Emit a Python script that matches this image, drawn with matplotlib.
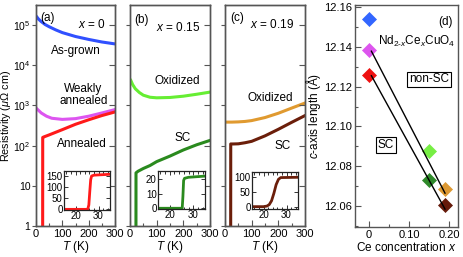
import matplotlib
matplotlib.use("Agg")
import matplotlib.pyplot as plt
from matplotlib.ticker import FixedLocator, MultipleLocator, NullLocator
import numpy as np

plt.rcParams['font.family'] = ['Liberation Sans', 'DejaVu Sans']
plt.rcParams['mathtext.fontset'] = 'custom'
plt.rcParams['mathtext.rm'] = 'Liberation Sans'
plt.rcParams['mathtext.it'] = 'Liberation Sans:italic'
plt.rcParams['mathtext.bf'] = 'Liberation Sans:bold'

# ---------------- data ----------------
# panel (a), x = 0
T_asgrown = [3, 10, 20, 35, 50, 75, 100, 150, 200, 250, 300]
rho_asgrown = [1.6e5, 1.4e5, 1.22e5, 1.03e5, 9.1e4, 7.6e4, 6.5e4, 5.2e4, 4.4e4, 3.8e4, 3.4e4]
T_weak = [3, 20, 40, 60, 100, 150, 200, 250, 300]
rho_weak = [830, 650, 540, 480, 450, 470, 540, 650, 790]
T_ann = [25, 25.5, 30, 50, 100, 150, 200, 250, 300]
rho_ann = [1e-3, 160, 165, 185, 250, 340, 440, 560, 690]
# panel (b), x = 0.15
T_oxb = [3, 10, 20, 35, 50, 75, 100, 150, 200, 250, 300]
rho_oxb = [4200, 3300, 2600, 2100, 1800, 1600, 1550, 1580, 1700, 1900, 2150]
T_scb = [22, 22.5, 30, 50, 75, 100, 150, 200, 250, 300]
rho_scb = [1e-3, 21, 23, 27, 32, 40, 55, 78, 105, 135]
# panel (c), x = 0.19
T_oxc = [3, 25, 50, 75, 100, 150, 200, 250, 300]
rho_oxc = [385, 385, 390, 400, 420, 500, 640, 860, 1150]
T_scc = [21, 21.5, 30, 50, 75, 100, 150, 200, 250, 300]
rho_scc = [1e-3, 110, 110, 111, 118, 128, 175, 255, 380, 560]

# insets (linear, T in K)
Ti_a = [15, 25.3, 25.8, 26.2, 26.6, 27.0, 28, 35]
ri_a = [0, 0, 20, 80, 135, 152, 156, 160]
Ti_b = [15, 25.3, 25.6, 25.9, 26.3, 28, 35]
ri_b = [0, 0, 8, 19, 20.5, 21.2, 22]
Ti_c = [15, 20, 21.5, 22.5, 23.5, 24.5, 25.5, 26.5, 27.5, 35]
ri_c = [0, 0, 2, 7, 20, 45, 75, 93, 99, 100]

# panel (d)
x_ce = [0, 0, 0, 0.15, 0.15, 0.19, 0.19]
c_len = [12.154, 12.1385, 12.126, 12.0875, 12.073, 12.0685, 12.0605]
c_cols = ['#3366ff', '#dd55ee', '#ee1111', '#77ee44', '#2f8a2a', '#dd9933', '#661a0a']
line1_x = [0.006, 0.19]
line1_y = [12.1378, 12.0665]
line2_x = [0.006, 0.19]
line2_y = [12.1255, 12.0585]

col_blue = '#3050ff'
col_mag = '#dd55f0'
col_red = '#ff1a1a'
col_lgreen = '#66ee33'
col_dgreen = '#2a8a1e'
col_orange = '#e09a30'
col_brown = '#6b1e0a'

spine_col = '#555555'

W, H = 463, 257
fig = plt.figure(figsize=(W / 100, H / 100), dpi=100)


def px_axes(x0, y0, x1, y1):
    return fig.add_axes([x0 / W, (H - y1) / H, (x1 - x0) / W, (y1 - y0) / H])


def style_spines(ax):
    for s in ax.spines.values():
        s.set_color(spine_col)
        s.set_linewidth(1.0)


ytick_vals = [1, 10, 1e2, 1e3, 1e4, 1e5]
ytick_labs = ['1', '10', '$10^2$', '$10^3$', '$10^4$', '$10^5$']


def main_panel(x0, x1, show_ylabels):
    ax = px_axes(x0, 5, x1, 226)
    ax.set_yscale('log')
    ax.set_ylim(1, 10 ** 5.5)
    ax.set_xlim(0, 300)
    ax.yaxis.set_major_locator(FixedLocator(ytick_vals))
    ax.yaxis.set_minor_locator(NullLocator())
    if show_ylabels:
        ax.set_yticklabels(ytick_labs)
    else:
        ax.set_yticklabels([])
    ax.xaxis.set_major_locator(FixedLocator([0, 100, 200, 300]))
    ax.xaxis.set_minor_locator(FixedLocator([50, 150, 250]))
    ax.tick_params(axis='y', direction='out', length=3, width=0.8, color=spine_col, labelsize=7.5, pad=1)
    ax.tick_params(axis='x', which='both', direction='in', width=0.8, color=spine_col, labelsize=8, pad=2)
    ax.tick_params(axis='x', which='major', length=4)
    ax.tick_params(axis='x', which='minor', length=2)
    ax.set_xlabel('$T$ (K)', fontsize=8.5, labelpad=0)
    tw = ax.twinx()
    tw.set_yscale('log')
    tw.set_ylim(1, 10 ** 5.5)
    tw.yaxis.set_major_locator(FixedLocator(ytick_vals))
    tw.yaxis.set_minor_locator(NullLocator())
    tw.set_yticklabels([])
    tw.tick_params(axis='y', direction='in', length=4, width=0.8, color=spine_col)
    style_spines(ax)
    style_spines(tw)
    return ax


def inset(x0, y0, x1, y1, T, r, col, ylim, yticks):
    ax = px_axes(x0, y0, x1, y1)
    ax.plot(T, r, color=col, lw=2.0, clip_on=True)
    ax.set_xlim(15, 35)
    ax.set_ylim(*ylim)
    ax.xaxis.set_major_locator(FixedLocator([20, 30]))
    ax.xaxis.set_minor_locator(MultipleLocator(2))
    ax.yaxis.set_major_locator(FixedLocator(yticks))
    ax.tick_params(which='both', direction='in', top=True, right=True, color='#333333',
                   labelsize=7, pad=1, width=0.7)
    ax.tick_params(which='major', length=3)
    ax.tick_params(which='minor', length=1.8)
    for s in ax.spines.values():
        s.set_color('#222222')
        s.set_linewidth(0.9)
    return ax


fs = 8.5

# panel (a)
axa = main_panel(36, 115, True)
axa.plot(T_asgrown, rho_asgrown, color=col_blue, lw=2.2)
axa.plot(T_weak, rho_weak, color=col_mag, lw=2.2)
axa.plot(T_ann, rho_ann, color=col_red, lw=2.2)
axa.set_ylabel(r'Resistivity ($\mu\Omega$ cm)', fontsize=7.8)
axa.yaxis.set_label_coords(-0.29, 0.5)
axa.text(0.05, 0.94, '(a)', transform=axa.transAxes, fontsize=fs, ha='left', va='center')
axa.text(0.71, 0.91, '$x$ = 0', transform=axa.transAxes, fontsize=fs, ha='center', va='center')
axa.text(0.51, 0.79, 'As-grown', transform=axa.transAxes, fontsize=fs, ha='center', va='center')
axa.text(0.60, 0.595, 'Weakly\nannealed', transform=axa.transAxes, fontsize=fs, ha='center', va='center',
         linespacing=1.0)
axa.text(0.58, 0.372, 'Annealed', transform=axa.transAxes, fontsize=fs, ha='center', va='center')
inset(64, 171, 110, 210, Ti_a, ri_a, col_red, (-3, 175), [0, 50, 100, 150])

# panel (b)
axb = main_panel(130, 210, False)
axb.plot(T_oxb, rho_oxb, color=col_lgreen, lw=2.2)
axb.plot(T_scb, rho_scb, color=col_dgreen, lw=2.2)
axb.text(0.05, 0.93, '(b)', transform=axb.transAxes, fontsize=fs, ha='left', va='center')
axb.text(0.60, 0.90, '$x$ = 0.15', transform=axb.transAxes, fontsize=fs, ha='center', va='center')
axb.text(0.59, 0.655, 'Oxidized', transform=axb.transAxes, fontsize=fs, ha='center', va='center')
axb.text(0.66, 0.40, 'SC', transform=axb.transAxes, fontsize=fs, ha='center', va='center')
inset(158, 171, 205, 209, Ti_b, ri_b, col_dgreen, (-0.5, 25.5), [0, 10, 20])

# panel (c)
axc = main_panel(225, 305, False)
axc.plot(T_oxc, rho_oxc, color=col_orange, lw=2.2)
axc.plot(T_scc, rho_scc, color=col_brown, lw=2.2)
axc.text(0.07, 0.94, '(c)', transform=axc.transAxes, fontsize=fs, ha='left', va='center')
axc.text(0.59, 0.91, '$x$ = 0.19', transform=axc.transAxes, fontsize=fs, ha='center', va='center')
axc.text(0.57, 0.58, 'Oxidized', transform=axc.transAxes, fontsize=fs, ha='center', va='center')
axc.text(0.72, 0.36, 'SC', transform=axc.transAxes, fontsize=fs, ha='center', va='center')
inset(252, 172, 298, 209, Ti_c, ri_c, col_brown, (-8, 118), [0, 50, 100])

# panel (d)
axd = px_axes(355, 5, 458, 227)
axd.plot(line1_x, line1_y, color='black', lw=1.0, zorder=3)
axd.plot(line2_x, line2_y, color='black', lw=1.0, zorder=3)
for xv, yv, cc in zip(x_ce, c_len, c_cols):
    axd.plot([xv], [yv], marker='D', ms=7, color=cc, mec=cc, mew=0.5, zorder=2, linestyle='none')
axd.set_xlim(-0.035, 0.2225)
axd.set_ylim(12.0495, 12.161)
axd.xaxis.set_major_locator(FixedLocator([0, 0.1, 0.2]))
axd.set_xticklabels(['0', '0.10', '0.20'])
axd.xaxis.set_minor_locator(FixedLocator([0.05, 0.15]))
axd.yaxis.set_major_locator(MultipleLocator(0.02))
axd.yaxis.set_minor_locator(MultipleLocator(0.01))
axd.yaxis.set_major_formatter(matplotlib.ticker.FormatStrFormatter('%.2f'))
axd.tick_params(which='both', direction='in', color=spine_col, labelsize=8, width=0.8, pad=2)
axd.tick_params(which='major', length=4)
axd.tick_params(which='minor', length=2)
style_spines(axd)
axd.set_xlabel('Ce concentration $x$', fontsize=8.5, labelpad=1)
axd.set_ylabel('$c$-axis length (Å)', fontsize=8.5, labelpad=1)
axd.text(0.95, 0.925, '(d)', transform=axd.transAxes, fontsize=fs, ha='right', va='center')
axd.text(0.97, 0.835, 'Nd$_{2\\text{-}x}$Ce$_x$CuO$_4$', transform=axd.transAxes, fontsize=fs,
         ha='right', va='center')
axd.text(0.72, 0.665, 'non-SC', transform=axd.transAxes, fontsize=fs, ha='center', va='center',
         bbox=dict(boxstyle='square,pad=0.15', fc='white', ec='black', lw=0.8))
axd.text(0.30, 0.37, 'SC', transform=axd.transAxes, fontsize=fs, ha='center', va='center',
         bbox=dict(boxstyle='square,pad=0.15', fc='white', ec='black', lw=0.8))

fig.savefig('out.png', dpi=100)
